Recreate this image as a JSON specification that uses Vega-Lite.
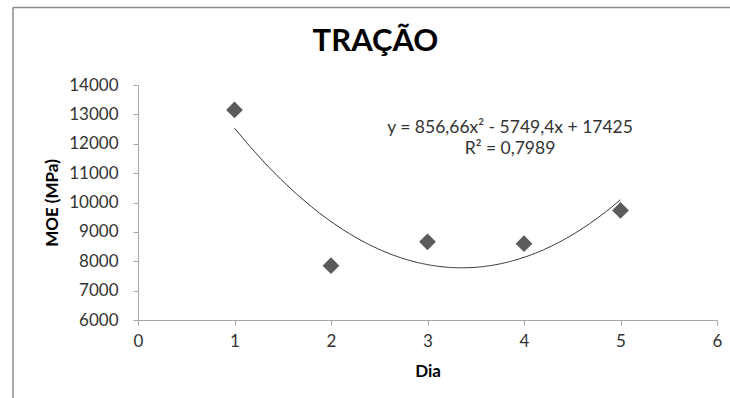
{
  "$schema": "https://vega.github.io/schema/vega-lite/v6.json",
  "width": 579,
  "height": 235,
  "autosize": {"type": "none"},
  "padding": {"left": 138, "top": 85, "right": 13, "bottom": 78},
  "background": "white",
  "config": {"view": {"stroke": null}, "font": "Lato"},
  "title": {
    "text": "TRAÇÃO",
    "font": "Lato",
    "fontSize": 31,
    "fontWeight": "bold",
    "color": "black",
    "anchor": "middle",
    "frame": "group",
    "dx": -52,
    "offset": -51
  },
  "data": {
    "values": [
      {"Dia": 1, "MOE": 13150},
      {"Dia": 2, "MOE": 7850},
      {"Dia": 3, "MOE": 8660},
      {"Dia": 4, "MOE": 8600},
      {"Dia": 5, "MOE": 9730}
    ]
  },
  "encoding": {
    "x": {
      "field": "Dia",
      "type": "quantitative",
      "scale": {"domain": [0, 6], "nice": false, "zero": false},
      "axis": {
        "title": "Dia",
        "titleFont": "Lato",
        "titleFontSize": 17,
        "titleFontWeight": "bold",
        "titleColor": "black",
        "titlePadding": 14,
        "values": [0, 1, 2, 3, 4, 5, 6],
        "format": "d",
        "labelOverlap": false,
        "grid": false,
        "domainColor": "#a6a6a6",
        "tickColor": "#a6a6a6",
        "tickSize": 5,
        "labelFont": "Lato",
        "labelFontSize": 17,
        "labelColor": "#333333",
        "labelPadding": 8,
        "labelFlush": false
      }
    },
    "y": {
      "field": "MOE",
      "type": "quantitative",
      "scale": {"domain": [6000, 14000], "nice": false, "zero": false},
      "axis": {
        "title": "MOE (MPa)",
        "titleFont": "Lato",
        "titleFontSize": 17,
        "titleFontWeight": "bold",
        "titleColor": "black",
        "titlePadding": 7,
        "values": [6000, 7000, 8000, 9000, 10000, 11000, 12000, 13000, 14000],
        "tickCount": 9,
        "format": "d",
        "labelOverlap": false,
        "grid": false,
        "domainColor": "#a6a6a6",
        "tickColor": "#a6a6a6",
        "tickSize": 5,
        "labelFont": "Lato",
        "labelFontSize": 17,
        "labelColor": "#333333",
        "labelPadding": 15
      }
    }
  },
  "layer": [
    {
      "mark": {"type": "point", "shape": "diamond", "filled": true, "size": 280, "fill": "#5b5b5b", "strokeWidth": 0, "opacity": 1}
    },
    {
      "transform": [
        {"regression": "MOE", "on": "Dia", "method": "poly", "order": 2, "extent": [1, 5]}
      ],
      "mark": {"type": "line", "stroke": "#3a3a3a", "strokeWidth": 1}
    },
    {
      "transform": [{"filter": "datum.Dia == 1"}],
      "mark": {"type": "rule", "stroke": "#8c8c8c", "strokeWidth": 1.5, "clip": false},
      "encoding": {
        "x": {"datum": -1.295, "type": "quantitative"},
        "y": {"datum": 16640, "type": "quantitative"},
        "y2": {"datum": 3000}
      }
    },
    {
      "transform": [{"filter": "datum.Dia == 1"}],
      "mark": {"type": "rule", "stroke": "#8c8c8c", "strokeWidth": 1.5, "clip": false},
      "encoding": {
        "x": {"datum": -1.295, "type": "quantitative"},
        "x2": {"datum": 7},
        "y": {"datum": 16640, "type": "quantitative"}
      }
    },
    {
      "transform": [{"filter": "datum.Dia == 1"}],
      "mark": {"type": "text", "font": "Lato", "fontSize": 17.5, "fontWeight": "normal", "fill": "#333333", "align": "center", "baseline": "middle"},
      "encoding": {
        "x": {"datum": 3.855, "type": "quantitative"},
        "y": {"datum": 12540, "type": "quantitative"},
        "text": {"value": "y = 856,66x² - 5749,4x + 17425"}
      }
    },
    {
      "transform": [{"filter": "datum.Dia == 1"}],
      "mark": {"type": "text", "font": "Lato", "fontSize": 17.5, "fontWeight": "normal", "fill": "#333333", "align": "center", "baseline": "middle"},
      "encoding": {
        "x": {"datum": 3.855, "type": "quantitative"},
        "y": {"datum": 11820, "type": "quantitative"},
        "text": {"value": "R² = 0,7989"}
      }
    }
  ]
}
